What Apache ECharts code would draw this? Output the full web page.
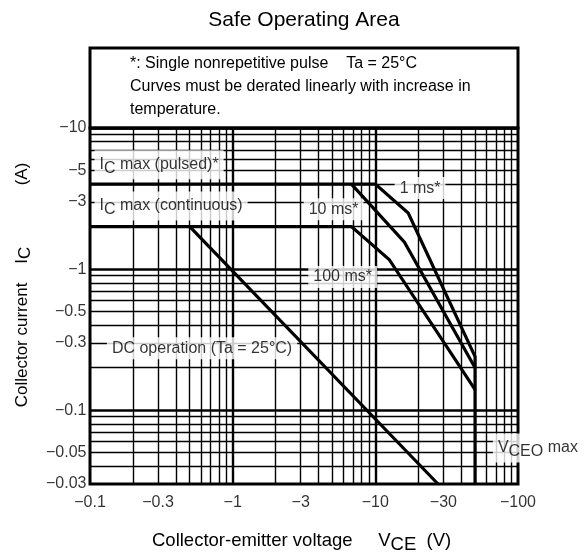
<!DOCTYPE html>
<html><head><meta charset="utf-8">
<script src="https://cdn.jsdelivr.net/npm/echarts@6/dist/echarts.min.js"></script>
<style>html,body{margin:0;padding:0;background:#fff}#c{width:586px;height:554px}</style>
</head><body><div id="c"></div>
<script>
// ---- data ----
const xTicks = [0.1, 0.3, 1, 3, 10, 30, 100];
const xTickLabels = ['−0.1', '−0.3', '−1', '−3', '−10', '−30', '−100'];
const yTicks = [10, 5, 3, 1, 0.5, 0.3, 0.1, 0.05, 0.03];
const yTickLabels = ['−10', '−5', '−3', '−1', '−0.5', '−0.3', '−0.1', '−0.05', '−0.03'];
const xMinorGrid = [0.2, 0.3, 0.4, 0.5, 0.6, 0.7, 0.8, 0.9, 2, 3, 4, 5, 6, 7, 8, 9, 20, 30, 40, 50, 60, 70, 80, 90];
const xMajorGrid = [1, 10];
const yMinorGrid = [0.04, 0.05, 0.06, 0.07, 0.08, 0.09, 0.2, 0.3, 0.4, 0.5, 0.6, 0.7, 0.8, 0.9, 2, 3, 4, 5, 6, 7, 8, 9];
const yMajorGrid = [0.1, 1, 10];
const dcCurve = [[0.5, 2], [27.5, 0.03]];
const pulsed1msCurve = [[0.1, 4], [10, 4], [17, 2.5], [50, 0.24], [50, 0.03]];
const ms10Curve = [[6.8, 4], [16, 1.55], [50, 0.2]];
const continuous100msCurve = [[0.1, 2], [6.8, 2], [12.5, 1.17], [50, 0.14]];
const annotations = [
  { text: '{n|I}{s|C}{n| max (pulsed)*}', x: 0.1, y: 5.5, pos: 'right' },
  { text: '{n|I}{s|C}{n| max (continuous)}', x: 0.1, y: 2.8, pos: 'right' },
  { text: '{n|10 ms*}', x: 5.1, y: 2.66, pos: 'inside' },
  { text: '{n|1 ms*}', x: 20.6, y: 3.75, pos: 'inside' },
  { text: '{n|100 ms*}', x: 5.9, y: 0.88, pos: 'inside' },
  { text: '{n|DC operation (Ta = 25°C)}', x: 0.61, y: 0.275, pos: 'inside' },
  { text: '{n|V}{s|CEO}{n| max}', x: 62, y: 0.054, pos: 'right' }
];
const titleText = 'Safe Operating Area';
const noteLines = ['*: Single nonrepetitive pulse    Ta = 25°C', 'Curves must be derated linearly with increase in', 'temperature.'];
const xTitle = '{n|Collector-emitter voltage     V}{s|CE}{n|  (V)}';
const yTitle = '{n|Collector current    I}{s|C}{n|             (A)}';
// ---- chart ----
const FONT = 'Liberation Sans, Arial, Helvetica, sans-serif';
function richOf(size, shift) {
  return {
    n: { fontSize: size, fontFamily: FONT, color: '#000', fill: '#000' },
    s: { fontSize: size, fontFamily: FONT, color: '#000', fill: '#000', padding: [shift, 0, 0, 0] }
  };
}
const chart = echarts.init(document.getElementById('c'), null, { renderer: 'canvas' });
const G = { left: 90, right: 68, top: 128, bottom: 70 };
function gridLines(vals, axis, width) {
  return vals.map(v => ({ [axis]: v, lineStyle: { width: width, color: '#000', type: 'solid' } }));
}
const curveStyle = { color: '#000', width: 3.2, cap: 'butt', join: 'miter' };
function curve(name, data) {
  return { name, type: 'line', data, z: 5, symbol: 'none', silent: true, lineStyle: curveStyle, itemStyle: { color: '#000' }, clip: false };
}
chart.setOption({
  animation: false,
  backgroundColor: '#fff',
  grid: { left: G.left, right: G.right, top: G.top, bottom: G.bottom, show: true, borderColor: '#000', borderWidth: 3, backgroundColor: 'transparent', z: 0 },
  xAxis: { type: 'log', logBase: 10, min: 0.1, max: 100, axisLine: { show: false }, axisTick: { show: false }, axisLabel: { show: false }, splitLine: { show: false } },
  yAxis: { type: 'log', logBase: 10, min: 0.03, max: 10, axisLine: { show: false }, axisTick: { show: false }, axisLabel: { show: false }, splitLine: { show: false } },
  graphic: [
    { type: 'rect', z: 10, shape: { x: 90, y: 48, width: 428, height: 80 }, style: { fill: 'none', stroke: '#000', lineWidth: 3 } },
    { type: 'text', z: 10, x: 304, y: 20, style: { text: titleText, fontSize: 21, fontFamily: FONT, fill: '#000', align: 'center', verticalAlign: 'middle' } },
    { type: 'text', z: 10, x: 130, y: 52, style: { text: noteLines.join('\n'), fontSize: 16, fontFamily: FONT, lineHeight: 23, fill: '#000', align: 'left', verticalAlign: 'top' } },
    { type: 'text', z: 10, x: 152, y: 541, style: { text: xTitle, rich: richOf(18.5, 8), align: 'left', verticalAlign: 'middle' } },
    { type: 'text', z: 10, x: 22, y: 285, rotation: Math.PI / 2, style: { text: yTitle, rich: richOf(17, 7), align: 'center', verticalAlign: 'middle' } }
  ],
  series: [
    { name: 'grid', type: 'line', data: [], z: 1, silent: true,
      markLine: { z: 1, silent: true, symbol: 'none', animation: false, label: { show: false },
        data: [].concat(gridLines(xMinorGrid, 'xAxis', 1.4), gridLines(xMajorGrid, 'xAxis', 2.4), gridLines(yMinorGrid, 'yAxis', 1.4), gridLines(yMajorGrid, 'yAxis', 2.6)) } },
    { name: 'xticks', type: 'scatter', z: 2, silent: true, clip: false, symbolSize: 1, itemStyle: { color: 'rgba(0,0,0,0)' },
      data: xTicks.map((v, i) => ({ value: [v, yTicks[yTicks.length - 1]], label: { formatter: xTickLabels[i] } })),
      label: { show: true, position: 'bottom', distance: 10, fontSize: 16, fontFamily: FONT, color: '#000' } },
    { name: 'yticks', type: 'scatter', z: 2, silent: true, clip: false, symbolSize: 1, itemStyle: { color: 'rgba(0,0,0,0)' },
      data: yTicks.map((v, i) => ({ value: [xTicks[0], v], label: { formatter: yTickLabels[i] } })),
      label: { show: true, position: 'left', distance: 3, fontSize: 16, fontFamily: FONT, color: '#000' } },
    { name: 'notes', type: 'scatter', z: 3, silent: true, clip: false, symbolSize: 1, itemStyle: { color: 'rgba(0,0,0,0)' },
      data: annotations.map(a => ({ value: [a.x, a.y], label: { formatter: a.text, position: a.pos } })),
      label: { show: true, distance: 4, backgroundColor: '#fff', padding: [3, 5, 3, 5], rich: richOf(16, 7) } },
    curve('DC', dcCurve),
    curve('1ms', pulsed1msCurve),
    curve('10ms', ms10Curve),
    curve('100ms', continuous100msCurve)
  ]
});
</script></body></html>
